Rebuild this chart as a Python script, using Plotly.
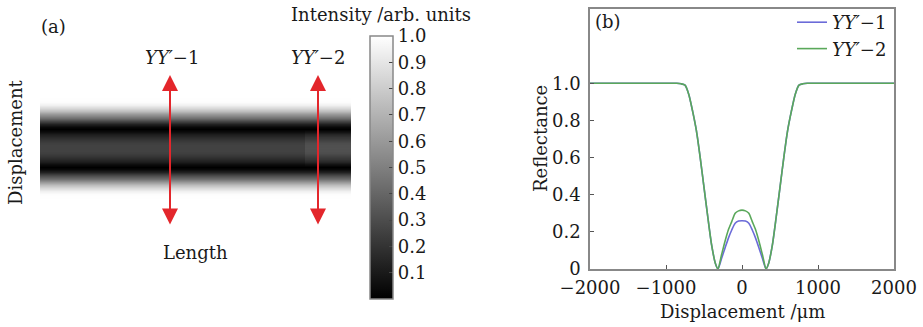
import plotly.graph_objects as go

# ---------------- data ----------------
displacement = [-2000, -900, -860, -800, -750, -700, -650, -600, -550, -500, -450, -400,
                -350, -316, -270, -225, -180, -135, -90, -45, 0,
                45, 90, 135, 180, 225, 270, 316, 350, 400, 450, 500, 550, 600, 650,
                700, 750, 800, 860, 900, 2000]

_outer_left = [1.0, 1.0, 1.0, 0.997, 0.99, 0.94, 0.85, 0.745, 0.60, 0.44, 0.28, 0.13, 0.03, 0.0]
_center_yy1 = [0.055, 0.111, 0.165, 0.21, 0.246, 0.258, 0.26]
_center_yy2 = [0.075, 0.147, 0.21, 0.255, 0.30, 0.313, 0.317]

reflectance_yy1 = _outer_left + _center_yy1 + _center_yy1[-2::-1] + _outer_left[::-1]
reflectance_yy2 = _outer_left + _center_yy2 + _center_yy2[-2::-1] + _outer_left[::-1]

# normalised length: section YY'-1 from 0 to the boundary, YY'-2 from the boundary to 1
length_start, length_boundary, length_end = 0.0, 0.852, 1.0

x_ticks = [-2000, -1000, 0, 1000, 2000]
y_ticks = [0, 0.2, 0.4, 0.6, 0.8, 1.0]
y_ticktext = ["0", "0.2", "0.4", "0.6", "0.8", "1.0"]
cbar_ticks = [0.1, 0.2, 0.3, 0.4, 0.5, 0.6, 0.7, 0.8, 0.9, 1.0]

# ---------------- layout helpers ----------------
W, H = 923, 327
FONT = "DejaVu Serif"
FS = 18
TXT = "#1a1a1a"


def px(x):
    return x / W


def py(y):
    return 1 - y / H


fig = go.Figure()

# ---------------- panel (a): intensity map ----------------
gray = [[0, "#000000"], [1, "#ffffff"]]
eps = 0.001
x_cols = [length_start, length_boundary - eps, length_boundary + eps, length_end]
z = [[a, a, b, b] for a, b in zip(reflectance_yy1, reflectance_yy2)]
fig.add_trace(go.Heatmap(
    x=x_cols, y=displacement, z=z,
    colorscale=gray, zmin=0, zmax=1, zsmooth="best",
    xaxis="x2", yaxis="y2", hoverinfo="skip", showscale=True,
    colorbar=dict(
        x=px(370), xanchor="left", xref="paper",
        y=py(167.5), yanchor="middle", yref="paper",
        len=263, lenmode="pixels", thickness=23, thicknessmode="pixels",
        xpad=0, ypad=0,
        outlinecolor="#888", outlinewidth=1.5,
        tickvals=cbar_ticks, ticktext=[f"{v:.1f}" for v in cbar_ticks],
        ticks="inside", ticklen=4, tickcolor="#444",
        tickfont=dict(family=FONT, size=FS, color=TXT),
    ),
))

# ---------------- panel (b): reflectance curves ----------------
fig.add_trace(go.Scatter(
    x=displacement, y=reflectance_yy1, mode="lines",
    name="<i>YY′</i>−1", line=dict(color="#6b6bd8", width=1.6, shape="spline", smoothing=0.6),
    xaxis="x", yaxis="y",
))
fig.add_trace(go.Scatter(
    x=displacement, y=reflectance_yy2, mode="lines",
    name="<i>YY′</i>−2", line=dict(color="#5aa85a", width=1.6, shape="spline", smoothing=0.6),
    xaxis="x", yaxis="y",
))

axis_common = dict(showgrid=False, zeroline=False, showline=True, linecolor="#888",
                   linewidth=1.5, mirror=True, ticks="inside", ticklen=4, tickcolor="#555",
                   automargin=False,
                   tickfont=dict(family=FONT, size=FS, color=TXT))

fig.update_layout(
    template="none",
    width=W, height=H, autosize=False,
    margin=dict(l=0, r=0, t=0, b=0, pad=0),
    paper_bgcolor="white", plot_bgcolor="white",
    font=dict(family=FONT, size=FS, color=TXT),
    xaxis=dict(domain=[px(590), px(894)], range=[-2000, 2000], tickvals=x_ticks,
               anchor="y", ticklabelstandoff=2, **axis_common),
    yaxis=dict(domain=[py(269), py(9)], range=[0, 1.4], tickvals=y_ticks,
               ticktext=y_ticktext, anchor="x", ticklabelstandoff=4, **axis_common),
    xaxis2=dict(domain=[px(40), px(351)], range=[0, 1], visible=False, anchor="y2",
                automargin=False),
    yaxis2=dict(domain=[py(270), py(26)], range=[-2000, 2000], visible=False, anchor="x2",
                automargin=False),
    showlegend=True,
    legend=dict(x=px(892), xanchor="right", y=py(4), yanchor="top",
                bgcolor="rgba(0,0,0,0)", borderwidth=0,
                font=dict(family=FONT, size=FS, color=TXT),
                itemwidth=30, tracegroupgap=0),
)

# ---------------- text annotations ----------------
def label(text, x, y, size=FS, angle=0):
    fig.add_annotation(text=text, x=px(x), y=py(y), xref="paper", yref="paper",
                       showarrow=False, textangle=angle,
                       font=dict(family=FONT, size=size, color=TXT),
                       xanchor="center", yanchor="middle")


label("(a)", 53, 27)
label("<i>YY′</i>−1", 172, 57)
label("<i>YY′</i>−2", 318, 57)
label("Length", 195, 253)
label("Displacement", 15, 143, angle=-90)
label("Intensity /arb. units", 381, 14)
label("(b)", 608, 22)
label("Reflectance", 540, 139, angle=-90)
label("Displacement /μm", 742, 311)

# red double-headed arrows
for xa in (170, 318):
    fig.add_annotation(x=px(xa), y=py(75), xref="paper", yref="paper",
                       ax=0, ay=151, axref="pixel", ayref="pixel",
                       text="", showarrow=True, arrowside="end+start",
                       arrowhead=2, arrowsize=1.6, arrowwidth=2, arrowcolor="#e3262b")

fig.write_html("out.html",
               config={"displayModeBar": False},
               post_script="document.body.style.margin='0';document.body.style.overflow='hidden';")
